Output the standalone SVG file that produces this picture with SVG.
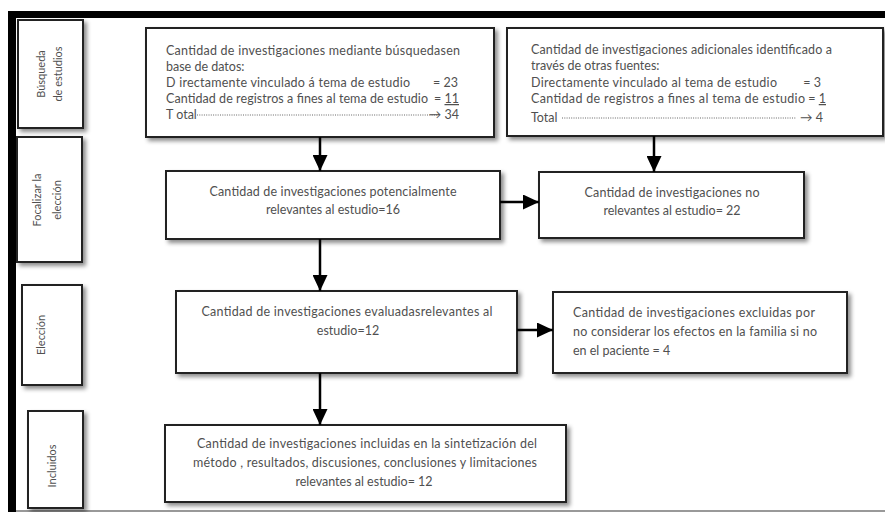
<svg xmlns="http://www.w3.org/2000/svg" width="885" height="512" viewBox="0 0 885 512">
<defs>
<filter id="sh" x="-10%" y="-10%" width="125%" height="135%">
<feDropShadow dx="3" dy="3" stdDeviation="2" flood-color="#000" flood-opacity="0.45"/>
</filter>
<marker id="ah" markerUnits="userSpaceOnUse" markerWidth="16" markerHeight="15" refX="16" refY="7.5" orient="auto">
<path d="M0,0 L16,7.5 L0,15 z" fill="#000"/>
</marker>
</defs>
<style>
.box{fill:#fff;stroke:#222;stroke-width:2;filter:url(#sh)}
.t{font-family:Lato,"Open Sans","Liberation Sans",sans-serif;font-size:12.5px;fill:#505050}
.lab{font-family:Lato,"Open Sans","Liberation Sans",sans-serif;font-size:11px;fill:#505050;text-anchor:middle}
.c{text-anchor:middle}
.e{text-anchor:end}
.con{stroke:#000;stroke-width:2.5;fill:none;marker-end:url(#ah)}
.dot{stroke:#555;stroke-width:0.9;stroke-dasharray:1 1.3}
</style>
<rect width="885" height="512" fill="#fff"/>
<!-- frame -->
<rect x="8" y="11" width="877" height="7" fill="#000"/>
<rect x="8" y="11" width="8" height="501" fill="#000"/>
<line x1="16" y1="511" x2="885" y2="511" stroke="#777" stroke-width="1.5"/>

<g id="label-busqueda">
<rect class="box" x="18" y="20" width="65" height="108"/>
<text class="lab" transform="translate(45,74) rotate(-90)">Búsqueda</text>
<text class="lab" transform="translate(62,74) rotate(-90)">de estudios</text>
</g>
<g id="label-focalizar">
<rect class="box" x="17" y="137" width="65" height="125"/>
<text class="lab" transform="translate(41,200) rotate(-90)">Focalizar la</text>
<text class="lab" transform="translate(61,200) rotate(-90)">elección</text>
</g>
<g id="label-eleccion">
<rect class="box" x="22" y="285" width="60" height="100"/>
<text class="lab" transform="translate(45,335) rotate(-90)">Elección</text>
</g>
<g id="label-incluidos">
<rect class="box" x="28" y="411" width="55" height="97"/>
<text class="lab" transform="translate(56,466) rotate(-90)">Incluidos</text>
</g>

<g id="box-bases">
<rect class="box" x="146" y="28" width="348" height="109"/>
<text class="t" x="166" y="55" textLength="294">Cantidad de investigaciones mediante  búsquedasen</text>
<text class="t" x="166" y="71">base de datos:</text>
<text class="t" x="166" y="87" textLength="244">D irectamente  vinculado á tema de estudio</text>
<text class="t e" x="458" y="87">= 23</text>
<text class="t" x="166" y="103" textLength="262">Cantidad de registros a fines  al tema de estudio</text>
<text class="t e" x="459" y="103">= <tspan text-decoration="underline">11</tspan></text>
<text class="t" x="166" y="119">T otal</text>
<line class="dot" x1="197" y1="115" x2="438" y2="115"/>
<text class="t e" x="459" y="119">→ 34</text>
</g>

<g id="box-otras">
<rect class="box" x="507" y="28" width="376" height="108"/>
<text class="t" x="531" y="54" textLength="301">Cantidad de investigaciones adicionales identificado a</text>
<text class="t" x="531" y="70">través de otras fuentes:</text>
<text class="t" x="531" y="87" textLength="246">Directamente  vinculado al tema de estudio</text>
<text class="t e" x="821" y="87">= 3</text>
<text class="t" x="531" y="103" textLength="274">Cantidad de registros   a fines al tema de estudio</text>
<text class="t e" x="826" y="103">= <tspan text-decoration="underline">1</tspan></text>
<text class="t" x="531" y="122">Total</text>
<line class="dot" x1="562" y1="118" x2="796" y2="118"/>
<text class="t e" x="823" y="122">→   4</text>
</g>

<g id="box-potenciales">
<rect class="box" x="166" y="171" width="334" height="68"/>
<text class="t c" x="333" y="196" textLength="247">Cantidad  de investigaciones potencialmente</text>
<text class="t c" x="333" y="214">relevantes al estudio=16</text>
</g>

<g id="box-norelevantes">
<rect class="box" x="539" y="172" width="265" height="66"/>
<text class="t c" x="672" y="197" textLength="175">Cantidad  de investigaciones no</text>
<text class="t c" x="672" y="215">relevantes al estudio= 22</text>
</g>

<g id="box-evaluadas">
<rect class="box" x="176" y="291" width="341" height="82"/>
<text class="t c" x="347" y="316" textLength="291">Cantidad  de investigaciones evaluadasrelevantes al</text>
<text class="t c" x="348" y="335">estudio=12</text>
</g>

<g id="box-excluidas">
<rect class="box" x="553" y="292" width="294" height="81"/>
<text class="t" x="573" y="317" textLength="242">Cantidad de investigaciones excluidas  por</text>
<text class="t" x="573" y="336" textLength="244">no considerar los efectos en la familia si no</text>
<text class="t" x="573" y="355">en el paciente  = 4</text>
</g>

<g id="box-incluidas">
<rect class="box" x="165" y="425" width="401" height="77"/>
<text class="t c" x="367" y="448" textLength="340">Cantidad  de investigaciones incluidas en la sintetización  del</text>
<text class="t c" x="365" y="467" textLength="344">método , resultados, discusiones, conclusiones y limitaciones</text>
<text class="t c" x="364" y="486">relevantes al estudio= 12</text>
</g>

<g id="connectors">
<line class="con" x1="320" y1="137" x2="320" y2="171"/>
<line class="con" x1="654" y1="136" x2="654" y2="172"/>
<line class="con" x1="500" y1="202" x2="539" y2="202"/>
<line class="con" x1="320" y1="239" x2="320" y2="291"/>
<line class="con" x1="517" y1="330" x2="553" y2="330"/>
<line class="con" x1="320" y1="373" x2="320" y2="425"/>
</g>
</svg>
